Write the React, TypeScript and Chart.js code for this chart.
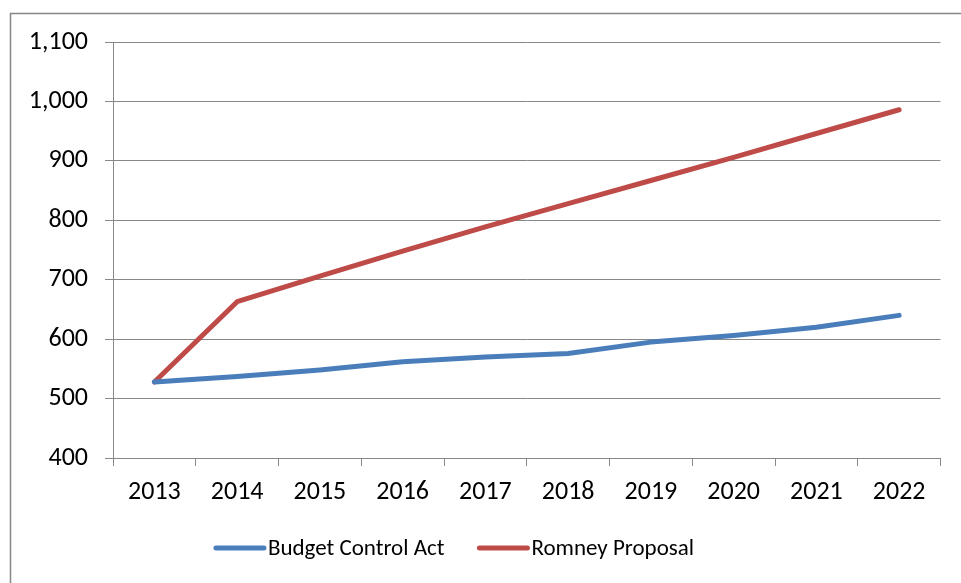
import { useEffect, useRef } from "react";
import { Chart, registerables } from "chart.js";

Chart.register(...registerables);

const years = ["2013", "2014", "2015", "2016", "2017", "2018", "2019", "2020", "2021", "2022"];
const budgetControlAct = [528, 537, 548, 562, 570, 576, 595, 606, 620, 640];
const romneyProposal = [528, 663, 706, 748, 789, 828, 867, 906, 946, 986];
const seriesLabels = ["Budget Control Act", "Romney Proposal"];
const seriesColors = ["#4A7EBB", "#BE4B48"];
const yMin = 400;
const yMax = 1100;
const yStep = 100;

const FONT = "Carlito, Lato, 'Open Sans', sans-serif";
const GRID = "#888888";

const framePlugin = {
  id: "frame",
  beforeDraw(chart: any) {
    const ctx = chart.ctx;
    ctx.save();
    ctx.fillStyle = "#ffffff";
    ctx.fillRect(0, 0, chart.width, chart.height);
    ctx.strokeStyle = "#868686";
    ctx.lineWidth = 1.5;
    ctx.strokeRect(10.5, 13.5, chart.width + 100, chart.height + 100);
    ctx.restore();
  },
};

const legendPlugin = {
  id: "customLegend",
  afterDraw(chart: any) {
    const ctx = chart.ctx;
    ctx.save();
    ctx.font = `23px ${FONT}`;
    ctx.textBaseline = "middle";
    ctx.textAlign = "left";
    const lineLen = 48;
    const gap = 4;
    const itemGap = 35;
    const items = chart.data.datasets.map((ds: any) => ({
      label: ds.label,
      color: ds.borderColor,
      width: ds.borderWidth,
      w: lineLen + gap + ctx.measureText(ds.label).width,
    }));
    const total = items.reduce((s: number, i: any) => s + i.w, 0) + itemGap * (items.length - 1);
    let x = 455 - total / 2;
    const y = 548;
    for (const it of items) {
      ctx.strokeStyle = it.color;
      ctx.lineWidth = it.width;
      ctx.lineCap = "round";
      ctx.beginPath();
      ctx.moveTo(x, y);
      ctx.lineTo(x + lineLen, y);
      ctx.stroke();
      ctx.fillStyle = "#000000";
      ctx.fillText(it.label, x + lineLen + gap, y + 1);
      x += it.w + itemGap;
    }
    ctx.restore();
  },
};

export default function App() {
  const ref = useRef<HTMLCanvasElement | null>(null);

  useEffect(() => {
    if (!ref.current) return;
    const chart = new Chart(ref.current, {
      type: "line",
      data: {
        labels: years,
        datasets: [
          {
            label: seriesLabels[0],
            data: budgetControlAct,
            borderColor: seriesColors[0],
            backgroundColor: seriesColors[0],
            borderWidth: 5,
            pointRadius: 0,
            tension: 0,
            borderCapStyle: "round",
            borderJoinStyle: "round",
          },
          {
            label: seriesLabels[1],
            data: romneyProposal,
            borderColor: seriesColors[1],
            backgroundColor: seriesColors[1],
            borderWidth: 5,
            pointRadius: 0,
            tension: 0,
            borderCapStyle: "round",
            borderJoinStyle: "round",
          },
        ],
      },
      options: {
        responsive: false,
        animation: false,
        devicePixelRatio: 1,
        layout: { padding: { left: 0, right: 20.5, top: 42, bottom: 65 } },
        plugins: {
          legend: { display: false },
          tooltip: { enabled: false },
        },
        scales: {
          x: {
            offset: true,
            grid: {
              display: true,
              drawOnChartArea: false,
              drawTicks: true,
              tickLength: 8,
              offset: true,
              color: GRID,
            },
            border: { color: GRID, width: 1 },
            ticks: {
              color: "#000000",
              font: { family: FONT, size: 26 },
              padding: 11,
              maxRotation: 0,
              autoSkip: false,
            },
            afterFit(scale: any) {
              scale.height = 60;
            },
          },
          y: {
            min: yMin,
            max: yMax,
            grid: {
              color: GRID,
              drawTicks: true,
              tickLength: 8,
            },
            border: { color: GRID, width: 1 },
            ticks: {
              stepSize: yStep,
              color: "#000000",
              font: { family: FONT, size: 26 },
              padding: 17,
            },
            afterFit(scale: any) {
              scale.width = 113;
            },
          },
        },
      },
      plugins: [framePlugin, legendPlugin],
    });
    return () => chart.destroy();
  }, []);

  return (
    <div style={{ position: "absolute", left: 0, top: 0, width: 961, height: 583 }}>
      <canvas ref={ref} width={961} height={583} style={{ display: "block" }} />
    </div>
  );
}
